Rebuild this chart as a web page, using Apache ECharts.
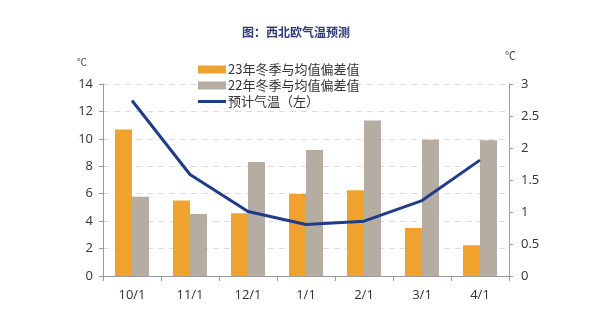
<!DOCTYPE html>
<html>
<head>
<meta charset="utf-8">
<script src="https://cdn.jsdelivr.net/npm/echarts@6/dist/echarts.min.js"></script>
<style>
  html, body { margin: 0; padding: 0; background: #fff; }
  #chart { width: 592px; height: 322px; }
</style>
</head>
<body>
<div id="chart"></div>
<script>
// Forecast months
const categories = ['10/1', '11/1', '12/1', '1/1', '2/1', '3/1', '4/1'];
// Deviation from seasonal mean (right axis, ℃)
const dev23 = [2.29, 1.18, 0.98, 1.28, 1.34, 0.75, 0.48];
const dev22 = [1.24, 0.97, 1.78, 1.97, 2.43, 2.13, 2.12];
// Forecast temperature (left axis, ℃)
const forecastTemp = [12.8, 7.4, 4.7, 3.75, 4.0, 5.5, 8.45];

const seriesNames = ['23年冬季与均值偏差值', '22年冬季与均值偏差值', '预计气温（左）'];
const leftTicks = { min: 0, max: 14, interval: 2 };
const rightTicks = { min: 0, max: 3, interval: 0.5 };

const FONT = '"Open Sans", "Noto Sans CJK SC", sans-serif';
const AXIS_COLOR = '#9a9a9a';
const LABEL_COLOR = '#333';
const LINE_COLOR = '#1f3c88';

const chart = echarts.init(document.getElementById('chart'), null, { renderer: 'canvas' });

chart.setOption({
  animation: false,
  backgroundColor: '#fff',
  textStyle: { fontFamily: FONT },
  title: {
    text: '图：西北欧气温预测',
    left: 'center',
    top: 21,
    textStyle: { fontSize: 12, fontWeight: 'bold', color: '#2f3b78', fontFamily: '"Noto Sans CJK SC", sans-serif' }
  },
  graphic: [
    { type: 'text', left: 77, top: 58, style: { text: '℃', fontSize: 10, fill: '#444', fontFamily: FONT } },
    { type: 'text', left: 505, top: 51, style: { text: '℃', fontSize: 11, fill: '#444', fontFamily: FONT } }
  ],
  legend: {
    orient: 'vertical',
    left: 198,
    top: 63,
    padding: 0,
    itemWidth: 28,
    itemHeight: 8,
    itemGap: 3,
    data: [
      { name: seriesNames[0], icon: 'rect' },
      { name: seriesNames[1], icon: 'rect' },
      { name: seriesNames[2], icon: 'path://M0 0H28V3H0Z' }
    ],
    textStyle: { fontSize: 13, color: '#333', fontFamily: '"Noto Sans CJK SC", sans-serif', padding: [0, 0, 0, -3] }
  },
  grid: { left: 103, right: 83, top: 84, bottom: 46 },
  xAxis: {
    type: 'category',
    data: categories,
    axisLine: { lineStyle: { color: AXIS_COLOR, width: 1 } },
    axisTick: { show: true, length: 5, lineStyle: { color: AXIS_COLOR } },
    axisLabel: { fontSize: 13, color: LABEL_COLOR, margin: 13 }
  },
  yAxis: [
    {
      type: 'value',
      position: 'left',
      min: leftTicks.min, max: leftTicks.max, interval: leftTicks.interval,
      axisLine: { show: true, lineStyle: { color: AXIS_COLOR } },
      axisTick: { show: true, length: 4, lineStyle: { color: AXIS_COLOR } },
      axisLabel: { fontSize: 13, color: LABEL_COLOR, margin: 10 },
      splitLine: { show: true, lineStyle: { color: '#dcdcdc', type: [6, 5], width: 1 } }
    },
    {
      type: 'value',
      position: 'right',
      min: rightTicks.min, max: rightTicks.max, interval: rightTicks.interval,
      axisLine: { show: true, lineStyle: { color: AXIS_COLOR } },
      axisTick: { show: true, length: 4, lineStyle: { color: AXIS_COLOR } },
      axisLabel: { fontSize: 13, color: LABEL_COLOR, margin: 12 },
      splitLine: { show: false }
    }
  ],
  series: [
    {
      name: seriesNames[0],
      type: 'bar',
      yAxisIndex: 1,
      data: dev23,
      barWidth: 17,
      barGap: '0%',
      itemStyle: { color: '#f0a22e' }
    },
    {
      name: seriesNames[1],
      type: 'bar',
      yAxisIndex: 1,
      data: dev22,
      barWidth: 17,
      barGap: '0%',
      itemStyle: { color: '#b5ada2' }
    },
    {
      name: seriesNames[2],
      type: 'line',
      yAxisIndex: 0,
      data: forecastTemp,
      symbol: 'none',
      lineStyle: { color: LINE_COLOR, width: 3 },
      itemStyle: { color: LINE_COLOR },
      z: 5
    }
  ]
});
</script>
</body>
</html>
